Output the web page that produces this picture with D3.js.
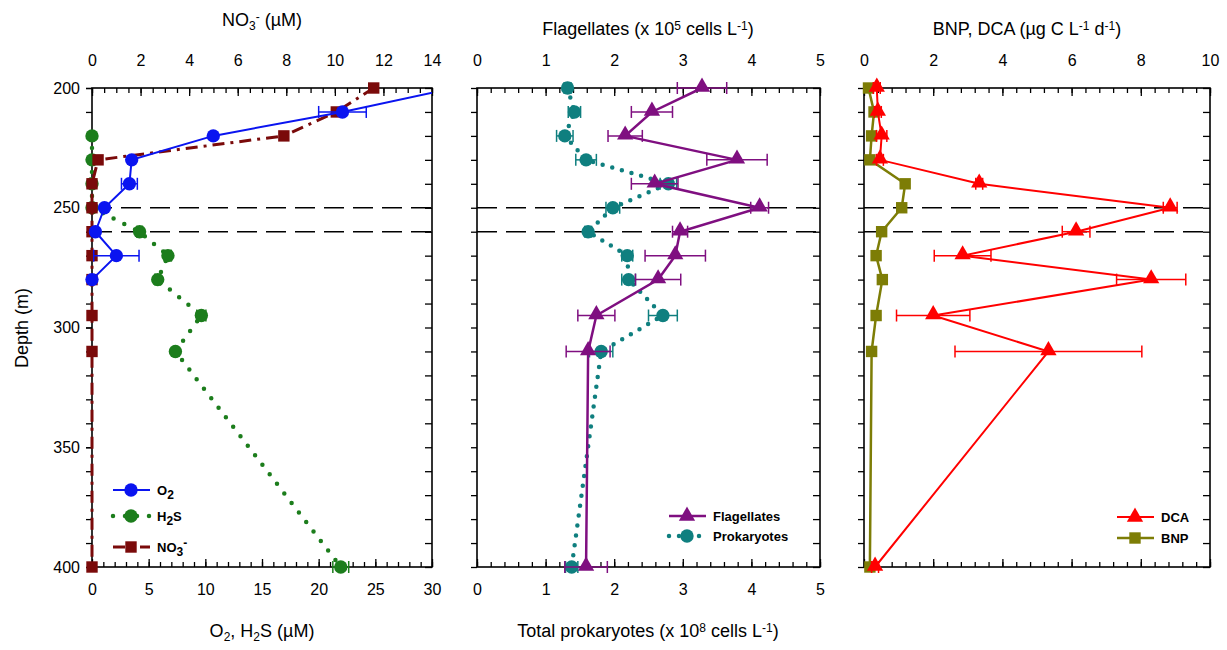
<!DOCTYPE html>
<html>
<head>
<meta charset="utf-8">
<script src="https://cdn.jsdelivr.net/npm/d3@7"></script>
<style>
    body { margin: 0; background: #fff; }
    svg { font-family: "Liberation Sans", Arial, sans-serif; }
    .axis path { display: none; }
    .axis line { stroke: #000; stroke-width: 1.3px; }
    .axis text { font-size: 16px; fill: #000; }
    .legend text { font-size: 13px; font-weight: bold; }
</style>
</head>
<body>
<div id="chart"></div>
<script>
    // depths (m)
    var depths = [200, 210, 220, 230, 240, 250, 260, 270, 280, 295, 310, 400];

    // left panel
    var o2Depths = [200, 210, 220, 230, 240, 250, 260, 270, 280];
    var o2 = [32, 22.1, 10.7, 3.5, 3.3, 1.1, 0.3, 2.15, 0];
    var o2Err = [0, 2.1, 0, 0, 0.7, 0, 0, 2.0, 0];
    var h2sDepths = [220, 230, 240, 250, 260, 270, 280, 295, 310, 400];
    var h2s = [0, 0, 0, 0, 4.2, 6.7, 5.8, 9.65, 7.36, 21.95];
    var h2sErr = [0, 0, 0, 0, 0.25, 0.3, 0.25, 0.4, 0.1, 0.7];
    var no3 = [11.6, 10.06, 7.9, 0.25, 0, 0, 0, 0, 0, 0, 0, 0];

    // middle panel
    var flagellates = [3.28, 2.55, 2.16, 3.79, 2.59, 4.12, 2.96, 2.89, 2.64, 1.74, 1.62, 1.59];
    var flagErr = [0.36, 0.30, 0.25, 0.44, 0.34, 0.13, 0.11, 0.44, 0.33, 0.27, 0.32, 0.31];
    var prokaryotes = [1.32, 1.42, 1.28, 1.59, 2.79, 1.98, 1.62, 2.19, 2.21, 2.71, 1.81, 1.38];
    var prokErr = [0.05, 0.09, 0.12, 0.15, 0.12, 0.10, 0.05, 0.08, 0.10, 0.21, 0.17, 0.09];

    // right panel
    var dca = [0.37, 0.4, 0.51, 0.46, 3.33, 8.85, 6.13, 2.85, 8.3, 2.0, 5.33, 0.32];
    var dcaErr = [0.1, 0.1, 0.15, 0.1, 0.1, 0.2, 0.4, 0.82, 1.0, 1.06, 2.7, 0.1];
    var bnp = [0.13, 0.29, 0.22, 0.17, 1.19, 1.09, 0.51, 0.35, 0.53, 0.35, 0.22, 0.17];

    var depthTicks = [200, 250, 300, 350, 400];
    var boundaryDepths = [250, 260];

    var width = 1227, height = 650;
    var plotTop = 88, plotBottom = 567;

    var svg = d3.select("#chart").append("svg")
        .attr("width", width)
        .attr("height", height);

    var y = d3.scaleLinear().domain([200, 400]).range([plotTop, plotBottom]);

    var panels = [
        {left: 92, right: 432, topMax: 14, topStep: 0.5, topMajor: 2, botMax: 30, botStep: 1, botMajor: 5, botLabels: true, yLabels: true},
        {left: 477, right: 820, topMax: 5, topStep: 0.2, topMajor: 1, botMax: 5, botStep: 0.2, botMajor: 1, botLabels: true, yLabels: false},
        {left: 864, right: 1210, topMax: 10, topStep: 0.4, topMajor: 2, botMax: 10, botStep: 0.4, botMajor: 2, botLabels: false, yLabels: false}
    ];

    function steps(max, step) {
        return d3.range(0, Math.round(max / step) + 1).map(function(i) { return +(i * step).toFixed(3); });
    }

    panels.forEach(function(p, i) {
        p.xTop = d3.scaleLinear().domain([0, p.topMax]).range([p.left, p.right]);
        p.xBot = d3.scaleLinear().domain([0, p.botMax]).range([p.left, p.right]);
        var g = svg.append("g");
        p.g = g;

        // clip only the right side (O2 runs off-scale); markers on x = 0 stay whole
        svg.append("clipPath").attr("id", "clip" + i)
            .append("rect")
            .attr("x", p.left - 12).attr("y", plotTop - 12)
            .attr("width", p.right - p.left + 12).attr("height", plotBottom - plotTop + 24);

        // top axis
        g.append("g").attr("class", "axis").attr("transform", "translate(0," + plotTop + ")")
            .call(d3.axisTop(p.xTop).tickValues(steps(p.topMax, p.topStep)).tickSize(-5).tickFormat(""));
        g.append("g").attr("class", "axis").attr("transform", "translate(0," + plotTop + ")")
            .call(d3.axisTop(p.xTop).tickValues(steps(p.topMax, p.topMajor)).tickSize(-8).tickPadding(22).tickFormat(d3.format("d")));

        // bottom axis
        g.append("g").attr("class", "axis").attr("transform", "translate(0," + plotBottom + ")")
            .call(d3.axisBottom(p.xBot).tickValues(steps(p.botMax, p.botStep)).tickSize(-5).tickFormat(""));
        var bAx = d3.axisBottom(p.xBot).tickValues(steps(p.botMax, p.botMajor)).tickSize(-8).tickPadding(17)
            .tickFormat(p.botLabels ? d3.format("d") : "");
        g.append("g").attr("class", "axis").attr("transform", "translate(0," + plotBottom + ")").call(bAx);

        // left axis (outward ticks every 10 m)
        g.append("g").attr("class", "axis").attr("transform", "translate(" + p.left + ",0)")
            .call(d3.axisLeft(y).tickValues(d3.range(200, 401, 10)).tickSize(6).tickFormat(""));
        if (p.yLabels) {
            g.append("g").attr("class", "axis").attr("transform", "translate(" + p.left + ",0)")
                .call(d3.axisLeft(y).tickValues(depthTicks).tickSize(6).tickPadding(6));
        }
        // right axis (inward ticks)
        g.append("g").attr("class", "axis").attr("transform", "translate(" + p.right + ",0)")
            .call(d3.axisRight(y).tickValues(d3.range(200, 401, 10)).tickSize(-7).tickFormat(""));

        // dashed boundaries
        g.selectAll("line.bound").data(boundaryDepths).enter().append("line")
            .attr("class", "bound")
            .attr("x1", p.left).attr("x2", p.right)
            .attr("y1", function(d) { return y(d); }).attr("y2", function(d) { return y(d); })
            .attr("stroke", "#000").attr("stroke-width", 1.6)
            .attr("stroke-dasharray", "20,9");

        // frame
        g.append("rect")
            .attr("x", p.left).attr("y", plotTop)
            .attr("width", p.right - p.left).attr("height", plotBottom - plotTop)
            .attr("fill", "none").attr("stroke", "#000").attr("stroke-width", 1.6);

        p.plot = svg.append("g").attr("clip-path", "url(#clip" + i + ")");
    });

    var symbols = {
        circle: d3.symbol().type(d3.symbolCircle).size(140),
        square: d3.symbol().type(d3.symbolSquare).size(130),
        triangle: d3.symbol().type(d3.symbolTriangle).size(115)
    };

    function series(g, x, ds, vals, errs, color, opts) {
        var pts = ds.map(function(d, i) { return {d: d, v: vals[i], e: errs ? errs[i] : 0}; });
        var line = d3.line().x(function(p) { return x(p.v); }).y(function(p) { return y(p.d); });
        g.append("path").datum(pts)
            .attr("d", line)
            .attr("fill", "none")
            .attr("stroke", color)
            .attr("stroke-width", opts.width)
            .attr("stroke-linecap", opts.cap || "butt")
            .attr("stroke-dasharray", opts.dash || null);

        var eb = g.append("g").attr("stroke", color).attr("stroke-width", 1.5);
        pts.filter(function(p) { return p.e > 0; }).forEach(function(p) {
            var yy = y(p.d), x1 = x(p.v - p.e), x2 = x(p.v + p.e);
            eb.append("line").attr("x1", x1).attr("x2", x2).attr("y1", yy).attr("y2", yy);
            eb.append("line").attr("x1", x1).attr("x2", x1).attr("y1", yy - 6).attr("y2", yy + 6);
            eb.append("line").attr("x1", x2).attr("x2", x2).attr("y1", yy - 6).attr("y2", yy + 6);
        });

        g.selectAll(null).data(pts).enter().append("path")
            .attr("d", symbols[opts.symbol])
            .attr("transform", function(p) {
                var off = opts.symbol === "triangle" ? -1 : 0;
                return "translate(" + x(p.v) + "," + (y(p.d) + off) + ")";
            })
            .attr("fill", color);
    }

    var blue = "#0a14f0", green = "#1c7d1c", darkRed = "#7a0a0a",
        purple = "#7f0f80", teal = "#0f7f7f", red = "#ff0000", olive = "#7d7d06";

    // left panel
    var P0 = panels[0];
    series(P0.plot, P0.xBot, h2sDepths, h2s, h2sErr, green, {width: 4.5, dash: "0,12", cap: "round", symbol: "circle"});
    series(P0.plot, P0.xTop, depths, no3, null, darkRed, {width: 3, dash: "12,6,3,6", symbol: "square"});
    series(P0.plot, P0.xBot, o2Depths, o2, o2Err, blue, {width: 2, symbol: "circle"});

    // middle panel
    var P1 = panels[1];
    series(P1.plot, P1.xBot, depths, prokaryotes, prokErr, teal, {width: 4.5, dash: "0,10", cap: "round", symbol: "circle"});
    series(P1.plot, P1.xTop, depths, flagellates, flagErr, purple, {width: 2.5, symbol: "triangle"});

    // right panel
    var P2 = panels[2];
    series(P2.plot, P2.xTop, depths, bnp, null, olive, {width: 2.5, symbol: "square"});
    series(P2.plot, P2.xTop, depths, dca, dcaErr, red, {width: 2, symbol: "triangle"});

    // legends
    function legend(x0, y0, items) {
        var lg = svg.append("g").attr("class", "legend");
        items.forEach(function(it, i) {
            var yy = y0 + it.dy;
            lg.append("line")
                .attr("x1", x0).attr("x2", x0 + 37).attr("y1", yy).attr("y2", yy)
                .attr("stroke", it.color).attr("stroke-width", it.width)
                .attr("stroke-linecap", it.cap || "butt")
                .attr("stroke-dasharray", it.dash || null);
            lg.append("path").attr("d", symbols[it.symbol])
                .attr("transform", "translate(" + (x0 + 18) + "," + yy + ")")
                .attr("fill", it.color);
            var t = lg.append("text").attr("x", x0 + 44).attr("y", yy + 5);
            it.parts.forEach(function(pt) {
                var ts = t.append("tspan").text(pt[0]);
                if (pt[1] === "sub") ts.attr("baseline-shift", "-30%").attr("font-size", "12px");
                if (pt[1] === "sup") ts.attr("baseline-shift", "40%").attr("font-size", "12px");
            });
        });
    }

    legend(113, 490, [
        {dy: 0, color: blue, width: 2, symbol: "circle", parts: [["O"], ["2", "sub"]]},
        {dy: 26, color: green, width: 4.5, dash: "0,12", cap: "round", symbol: "circle", parts: [["H"], ["2", "sub"], ["S"]]},
        {dy: 57, color: darkRed, width: 3, dash: "12,6,3,6", symbol: "square", parts: [["NO"], ["3", "sub"], ["-", "sup"]]}
    ]);
    legend(669, 516, [
        {dy: 0, color: purple, width: 2.5, symbol: "triangle", parts: [["Flagellates"]]},
        {dy: 20, color: teal, width: 4.5, dash: "0,10", cap: "round", symbol: "circle", parts: [["Prokaryotes"]]}
    ]);
    legend(1117, 517, [
        {dy: 0, color: red, width: 2, symbol: "triangle", parts: [["DCA"]]},
        {dy: 21, color: olive, width: 2.5, symbol: "square", parts: [["BNP"]]}
    ]);

    // titles
    function title(x, yy, parts, rotate) {
        var t = svg.append("text")
            .attr("x", x).attr("y", yy)
            .attr("text-anchor", "middle")
            .attr("font-size", "18px");
        if (rotate) t.attr("transform", "rotate(-90," + x + "," + yy + ")");
        parts.forEach(function(pt) {
            var ts = t.append("tspan").text(pt[0]);
            if (pt[1] === "sub") ts.attr("baseline-shift", "-30%").attr("font-size", "12px");
            if (pt[1] === "sup") ts.attr("baseline-shift", "45%").attr("font-size", "12px");
        });
    }

    title(262, 26, [["NO"], ["3", "sub"], ["-", "sup"], [" (\u00b5M)"]]);
    title(648, 35, [["Flagellates (x 10"], ["5", "sup"], [" cells L"], ["-1", "sup"], [")"]]);
    title(1027, 35, [["BNP, DCA (\u00b5g C L"], ["-1", "sup"], [" d"], ["-1", "sup"], [")"]]);
    title(262, 637, [["O"], ["2", "sub"], [", H"], ["2", "sub"], ["S (\u00b5M)"]]);
    title(648, 637, [["Total prokaryotes (x 10"], ["8", "sup"], [" cells L"], ["-1", "sup"], [")"]]);
    title(28, 328, [["Depth (m)"]], true);
</script>
</body>
</html>
